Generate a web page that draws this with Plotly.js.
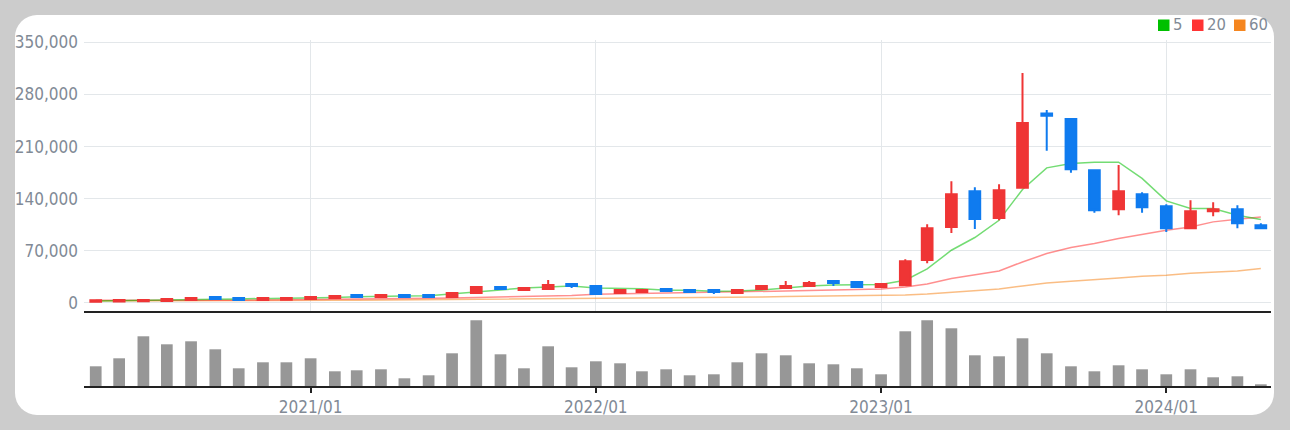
<!DOCTYPE html>
<html>
<head>
<meta charset="utf-8">
<script src="https://cdn.plot.ly/plotly-3.0.1.min.js"></script>
<style>
  html, body { margin: 0; padding: 0; background: #cccccc; }
  #card { position: absolute; left: 15px; top: 15px; width: 1259px; height: 400px; background: #ffffff; border-radius: 22px; }
  #chart { position: absolute; left: 0; top: 0; width: 1290px; height: 430px; }
</style>
</head>
<body>
<div id="card"></div>
<div id="chart"></div>
<script>
// monthly bars, 2020/04 .. 2024/05
var months = [
  '2020-04-01','2020-05-01','2020-06-01','2020-07-01','2020-08-01','2020-09-01','2020-10-01','2020-11-01','2020-12-01',
  '2021-01-01','2021-02-01','2021-03-01','2021-04-01','2021-05-01','2021-06-01','2021-07-01','2021-08-01','2021-09-01','2021-10-01','2021-11-01','2021-12-01',
  '2022-01-01','2022-02-01','2022-03-01','2022-04-01','2022-05-01','2022-06-01','2022-07-01','2022-08-01','2022-09-01','2022-10-01','2022-11-01','2022-12-01',
  '2023-01-01','2023-02-01','2023-03-01','2023-04-01','2023-05-01','2023-06-01','2023-07-01','2023-08-01','2023-09-01','2023-10-01','2023-11-01','2023-12-01',
  '2024-01-01','2024-02-01','2024-03-01','2024-04-01','2024-05-01'
];

var openP = [
  1800, 2000, 2200, 2700, 4000, 8000, 6700, 4000, 4500,
  5400, 6700, 10700, 8000, 10700, 10700, 8000, 13400, 21500, 17500, 18800, 25500,
  22800, 13400, 14800, 18800, 17500, 17500, 13400, 18800, 20200, 22800, 29600, 28200,
  21500, 23800, 57800, 102100, 150100, 114200, 154600, 254500, 246900, 178300, 125900, 146100,
  130000, 100400, 123200, 125900, 104400
];
var highP = [
  4000, 4000, 4200, 5600, 7000, 8100, 6900, 6900, 7000,
  8300, 9600, 10900, 10900, 12100, 10900, 14800, 22800, 21700, 20400, 30900, 25700,
  23000, 17700, 18800, 20200, 18800, 17700, 18800, 24200, 29600, 29600, 29800, 28400,
  25700, 58700, 105800, 163600, 155500, 159500, 308700, 259000, 247000, 178500, 185100, 148800,
  132700, 138000, 135300, 131300, 107100
];
var lowP = [
  500, 1800, 2000, 2500, 3800, 4000, 3800, 3800, 4300,
  5200, 6500, 6700, 6700, 7800, 6700, 7800, 13200, 17500, 17300, 18600, 20200,
  10700, 13200, 14600, 15900, 14600, 12100, 12100, 18600, 20000, 21500, 22800, 21300,
  20200, 23600, 53400, 94100, 99500, 111100, 154000, 204300, 174700, 121000, 117900, 121000,
  95400, 99500, 116500, 100400, 100200
];
var closeP = [
  3800, 3900, 4000, 5400, 6700, 5400, 4000, 6700, 6800,
  8000, 9400, 8000, 10700, 8000, 8000, 13400, 21500, 18800, 20200, 24200, 22800,
  12100, 17500, 17500, 16100, 14800, 14800, 17500, 22800, 22800, 26900, 26900, 21500,
  25500, 56000, 100400, 146100, 112900, 151500, 241500, 251300, 179700, 124600, 150100, 128600,
  100400, 123200, 125900, 107100, 100400
];

var ma5 = [
  2500, 2800, 3100, 3600, 4300, 5000, 5500, 5800, 6100,
  6700, 7500, 8500, 9400, 9400, 9800, 12100, 14800, 17500, 20200, 21900, 22800,
  20200, 19300, 19000, 17000, 17000, 15700, 16000, 17500, 20200, 22800, 24200, 24200,
  24700, 30500, 45700, 70800, 87900, 111100, 152400, 181400, 187300, 189100, 189100, 167200,
  137100, 126900, 126700, 117900, 112100
];
var ma20 = [
  3500, 3400, 3300, 3300, 3400, 3500, 3700, 3900, 4100,
  4400, 4700, 5000, 5400, 5800, 6200, 6700, 7300, 7900, 8500, 9200, 10000,
  11600, 12100, 13000, 13300, 13500, 13800, 14200, 14700, 16100, 16800, 17600, 18400,
  18800, 21500, 25500, 32800, 38200, 43000, 55100, 66400, 74500, 79800, 86600, 91900,
  97700, 102100, 108900, 112500, 115600
];
var ma60 = [
  2600, 2600, 2700, 2700, 2800, 2900, 3000, 3100, 3200,
  3300, 3500, 3700, 3900, 4100, 4300, 4500, 4800, 5100, 5400, 5700, 6000,
  6300, 6500, 6700, 6900, 7100, 7300, 7500, 7900, 8700, 9200, 9400, 9600,
  9800, 10800, 12100, 14400, 16100, 18800, 22800, 26900, 29200, 30900, 33600, 35900,
  37200, 39900, 41300, 43000, 46200
];

var volume = [
  197, 277, 497, 417, 447, 367, 177, 237, 237,
  277, 147, 157, 167, 77, 107, 327, 657, 317, 177, 397, 187,
  247, 227, 147, 167, 107, 117, 237, 327, 307, 227, 217, 177,
  117, 547, 657, 577, 307, 297, 477, 327, 197, 147, 207, 167,
  117, 167, 87, 97, 17
];

var priceTicks = [0, 70000, 140000, 210000, 280000, 350000];
var maNames = ['5', '20', '60'];
var maColors = ['#00c000', '#ff3333', '#f5861f'];

var FONT = '"DejaVu Sans Condensed", "DejaVu Sans", sans-serif';
var UP = '#ef3535';
var DOWN = '#0f7bef';
var priceRange = [-10750, 353100];

// page pixel -> paper coords of the plot area (l=84, t=40, 1187x346)
function px(x) { return (x - 84) / 1187; }
function py(y) { return 1 + (40 - y) / 346; }

function maTrace(vals, color) {
  return {
    x: months, y: vals,
    type: 'scatter', mode: 'lines',
    line: {color: color, width: 1.5},
    opacity: 0.55,
    xaxis: 'x', yaxis: 'y'
  };
}

var data = [
  maTrace(ma60, maColors[2]),
  maTrace(ma20, maColors[1]),
  maTrace(ma5, maColors[0]),
  {
    x: months, open: openP, high: highP, low: lowP, close: closeP,
    type: 'candlestick',
    increasing: {line: {color: UP, width: 2}, fillcolor: UP},
    decreasing: {line: {color: DOWN, width: 2}, fillcolor: DOWN},
    xaxis: 'x', yaxis: 'y3'
  },
  {
    x: months, y: volume,
    type: 'bar',
    marker: {color: '#979797'},
    width: 15 * 864e5,
    xaxis: 'x2', yaxis: 'y2'
  }
];

// legend: coloured squares + labels
var legendSq = [1158, 1192, 1234];
var legendTx = [1171, 1205, 1247];
var shapes = [], annotations = [];
maNames.forEach(function (n, i) {
  shapes.push({
    type: 'rect', xref: 'paper', yref: 'paper', layer: 'above',
    x0: px(legendSq[i]), x1: px(legendSq[i] + 11.5),
    y0: py(31), y1: py(19.5),
    fillcolor: maColors[i], line: {width: 0}
  });
  annotations.push({
    xref: 'paper', yref: 'paper',
    x: px(legendTx[i]), y: py(25), xanchor: 'left', yanchor: 'middle',
    showarrow: false, text: n,
    font: {family: FONT, size: 16.5, color: '#818a96'}
  });
});

var xRange = ['2020-03-17', '2024-05-14'];

var layout = {
  width: 1290,
  height: 430,
  margin: {l: 84, r: 19, t: 40, b: 44},
  paper_bgcolor: 'rgba(0,0,0,0)',
  plot_bgcolor: 'rgba(0,0,0,0)',
  showlegend: false,
  hovermode: false,
  font: {family: FONT, size: 17, color: '#818a96'},
  xaxis: {
    type: 'date', range: xRange, anchor: 'y',
    dtick: 'M12', tick0: '2021-01-01',
    showticklabels: false, ticks: '',
    showgrid: true, gridcolor: '#e3e7ea', gridwidth: 1,
    showline: true, linecolor: '#222222', linewidth: 2,
    zeroline: false,
    rangeslider: {visible: false}
  },
  xaxis2: {
    type: 'date', range: xRange, anchor: 'y2', matches: 'x',
    dtick: 'M12', tick0: '2021-01-01', tickformat: '%Y/%m',
    ticks: 'outside', ticklen: 5, tickwidth: 2, tickcolor: '#222222',
    showgrid: false, zeroline: false,
    showline: true, linecolor: '#222222', linewidth: 2
  },
  yaxis: {
    domain: [0.2168, 1],
    range: priceRange,
    tickvals: priceTicks, tickformat: ',d',
    ticks: '', ticklabelstandoff: 5,
    showgrid: true, gridcolor: '#e3e7ea', gridwidth: 1,
    zeroline: false, showline: false
  },
  yaxis3: {
    overlaying: 'y', range: priceRange,
    showticklabels: false, showgrid: false, zeroline: false, ticks: ''
  },
  yaxis2: {
    domain: [0, 0.2168],
    range: [0, 750],
    showticklabels: false, showgrid: false, zeroline: false, ticks: ''
  },
  shapes: shapes,
  annotations: annotations
};

Plotly.newPlot('chart', data, layout, {displayModeBar: false, staticPlot: true});
</script>
</body>
</html>
